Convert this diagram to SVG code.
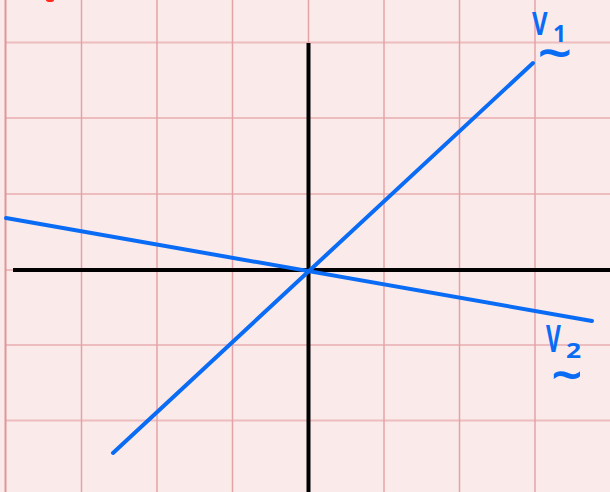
<svg xmlns="http://www.w3.org/2000/svg" width="610" height="492" viewBox="0 0 610 492">
<style>
.gv{stroke:#e3a3a6;stroke-width:1.5}
.gh{stroke:#edbcbe;stroke-width:2}
.ax{stroke:#000;stroke-width:4;stroke-linecap:butt}
.vec{stroke:#0a6cf5;stroke-width:4;stroke-linecap:round}
.lbl{font-family:"Noto Sans","DejaVu Sans",sans-serif;fill:#0a6cf5;font-weight:bold}
.til{font-family:"Noto Sans","DejaVu Sans",sans-serif;fill:#0a6cf5;font-weight:bold;font-size:30px;text-anchor:middle}
</style>
<rect width="610" height="492" fill="#fbeaea"/>
<g id="grid">
<line class="gh" x1="6" y1="42.5" x2="610" y2="42.5"/>
<line class="gh" x1="6" y1="118" x2="610" y2="118"/>
<line class="gh" x1="6" y1="194" x2="610" y2="194"/>
<line class="gh" x1="6" y1="270" x2="610" y2="270"/>
<line class="gh" x1="6" y1="345" x2="610" y2="345"/>
<line class="gh" x1="6" y1="420.5" x2="610" y2="420.5"/>
<line class="gv" x1="81.5" y1="0" x2="81.5" y2="492"/>
<line class="gv" x1="157" y1="0" x2="157" y2="492"/>
<line class="gv" x1="232.5" y1="0" x2="232.5" y2="492"/>
<line class="gv" x1="308.5" y1="0" x2="308.5" y2="492"/>
<line class="gv" x1="384" y1="0" x2="384" y2="492"/>
<line class="gv" x1="459.5" y1="0" x2="459.5" y2="492"/>
<line class="gv" x1="535" y1="0" x2="535" y2="492"/>
<line x1="5.5" y1="0" x2="5.5" y2="492" stroke="#e09698" stroke-width="2"/>
</g>
<ellipse cx="50" cy="0" rx="4" ry="2" fill="#ff2a1a"/>
<g id="connectors">
<line id="x-axis" class="ax" x1="13" y1="270" x2="610" y2="270"/>
<line id="y-axis" class="ax" x1="308.5" y1="43" x2="308.5" y2="492"/>
<line id="v1-line" class="vec" x1="113" y1="453" x2="533" y2="63"/>
<line id="v2-line" class="vec" x1="6" y1="218" x2="592" y2="321"/>
</g>
<g id="v1-label">
<text class="lbl" font-size="32" transform="translate(532,35) scale(0.75,1)">V</text>
<text class="lbl" font-size="23" x="553" y="42">1</text>
<text class="til" transform="translate(555,51) scale(2,1.5)" y="12">~</text>
</g>
<g id="v2-label">
<text class="lbl" font-size="38" transform="translate(546,352) scale(0.6,1)">V</text>
<text class="lbl" font-size="22" transform="translate(566,358) scale(1.2,1)">2</text>
<text class="til" transform="translate(567,373) scale(1.8,1.5)" y="12">~</text>
</g>
</svg>
